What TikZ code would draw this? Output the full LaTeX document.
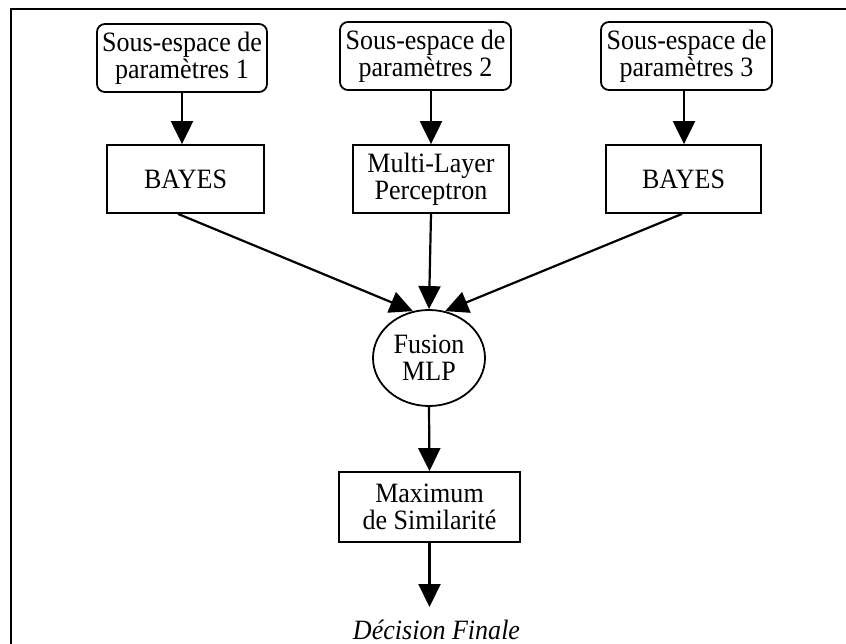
\documentclass[tikz,border=0pt]{standalone}
\usepackage{fontspec}
\setmainfont{Liberation Serif}[FakeStretch=0.93]
\usetikzlibrary{arrows.meta,shapes.geometric}

\tikzset{
  lbl/.style={font=\fontsize{28}{27}\selectfont, align=center, inner sep=0pt},
  roundbox/.style={lbl, draw, line width=1.8pt, rounded corners=8pt},
  plainbox/.style={lbl, draw, line width=1.8pt},
  fusionnode/.style={lbl, draw, ellipse, line width=1.8pt},
  flow/.style={line width=2.2pt, -{Triangle[length=23pt,width=22pt]}},
  frameline/.style={line width=2.7pt}
}

\begin{document}
\begin{tikzpicture}[x=1pt,y=-1pt]
  \useasboundingbox (0,0) rectangle (846,644);
  \fill[white] (0,0) rectangle (846,644);

  % outer frame
  \draw[frameline] (11,660) -- (11,9) -- (860,9);

  % parameter subspaces
  \node[roundbox, minimum width=170pt, minimum height=68pt] (p1) at (182,58) {Sous-espace de\\paramètres 1};
  \node[roundbox, minimum width=171pt, minimum height=68pt] (p2) at (425.5,56) {Sous-espace de\\paramètres 2};
  \node[roundbox, minimum width=171pt, minimum height=68pt] (p3) at (686.5,56) {Sous-espace de\\paramètres 3};

  % classifiers
  \node[plainbox, minimum width=157pt, minimum height=68pt] (b1) at (185.5,179) {BAYES};
  \node[plainbox, minimum width=156pt, minimum height=68pt] (mlp) at (431,179) {Multi-Layer\\Perceptron};
  \node[plainbox, minimum width=155pt, minimum height=68pt] (b3) at (683.5,179) {BAYES};

  % fusion
  \node[fusionnode, minimum width=112pt, minimum height=96pt] (fus) at (429,358) {Fusion\\MLP};

  % decision
  \node[plainbox, minimum width=181pt, minimum height=70pt] (max) at (429.5,507) {Maximum\\de Similarité};
  \node[lbl, font=\fontsize{28}{27}\selectfont\itshape, anchor=base] (dec) at (436.5,639) {Décision Finale};

  % connectors
  \draw[flow] (p1.south) -- (p1.south |- b1.north);
  \draw[flow] (p2.south -| mlp.north) -- (mlp.north);
  \draw[flow] (p3.south -| 684,0) -- (b3.north -| 684,0);

  \draw[flow] ([xshift=-7.5pt]b1.south) -- (fus.109);
  \draw[flow] (mlp.south) -- (fus.north);
  \draw[flow] ([xshift=-1.5pt]b3.south) -- (fus.71);

  \draw[flow] (fus.south) -- (max.north);
  \draw[flow] (max.south) -- (max.south |- 0,607);
\end{tikzpicture}
\end{document}
